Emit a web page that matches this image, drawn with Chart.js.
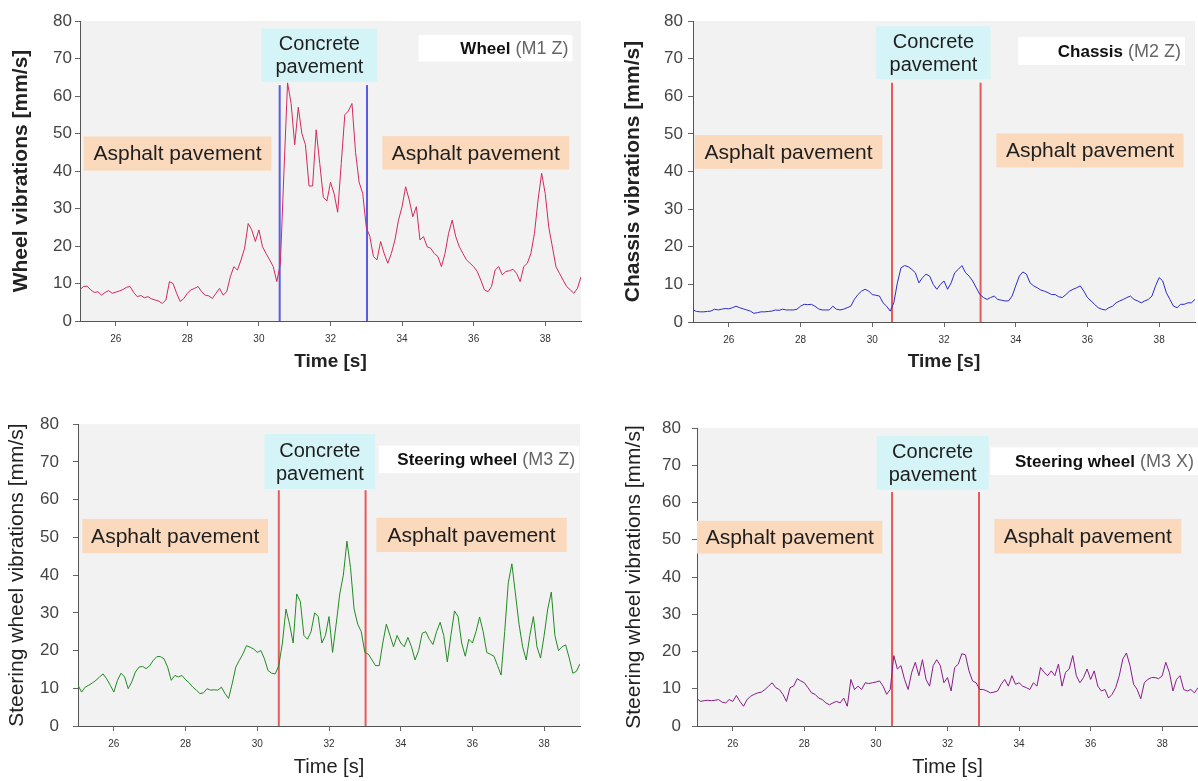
<!DOCTYPE html>
<html>
<head>
<meta charset="utf-8">
<title>Vibrations on asphalt and concrete pavement</title>
<script src="https://cdn.jsdelivr.net/npm/chart.js@4.4.1/dist/chart.umd.min.js"></script>
<style>
  html, body { margin: 0; padding: 0; background: #fff; }
  body { width: 1198px; height: 781px; position: relative; overflow: hidden; }
  canvas { position: absolute; }
</style>
</head>
<body>
<canvas id="wheelChart" width="590" height="380" style="left:0;top:0"></canvas>
<canvas id="chassisChart" width="598" height="380" style="left:600px;top:0"></canvas>
<canvas id="steerZChart" width="590" height="381" style="left:0;top:400px"></canvas>
<canvas id="steerXChart" width="598" height="381" style="left:600px;top:400px"></canvas>
<script>
// time axis [s], one sample every 0.1 s
const times = [
  25.0, 25.1, 25.2, 25.3, 25.4, 25.5, 25.6, 25.7, 25.8, 25.9,
  26.0, 26.1, 26.2, 26.3, 26.4, 26.5, 26.6, 26.7, 26.8, 26.9,
  27.0, 27.1, 27.2, 27.3, 27.4, 27.5, 27.6, 27.7, 27.8, 27.9,
  28.0, 28.1, 28.2, 28.3, 28.4, 28.5, 28.6, 28.7, 28.8, 28.9,
  29.0, 29.1, 29.2, 29.3, 29.4, 29.5, 29.6, 29.7, 29.8, 29.9,
  30.0, 30.1, 30.2, 30.3, 30.4, 30.5, 30.6, 30.7, 30.8, 30.9,
  31.0, 31.1, 31.2, 31.3, 31.4, 31.5, 31.6, 31.7, 31.8, 31.9,
  32.0, 32.1, 32.2, 32.3, 32.4, 32.5, 32.6, 32.7, 32.8, 32.9,
  33.0, 33.1, 33.2, 33.3, 33.4, 33.5, 33.6, 33.7, 33.8, 33.9,
  34.0, 34.1, 34.2, 34.3, 34.4, 34.5, 34.6, 34.7, 34.8, 34.9,
  35.0, 35.1, 35.2, 35.3, 35.4, 35.5, 35.6, 35.7, 35.8, 35.9,
  36.0, 36.1, 36.2, 36.3, 36.4, 36.5, 36.6, 36.7, 36.8, 36.9,
  37.0, 37.1, 37.2, 37.3, 37.4, 37.5, 37.6, 37.7, 37.8, 37.9,
  38.0, 38.1, 38.2, 38.3, 38.4, 38.5, 38.6, 38.7, 38.8, 38.9,
  39.0
];

// Wheel (M1 Z) [mm/s]
const wheelZ = [
  8.4, 9.2, 9.3, 8.3, 7.6, 7.8, 6.9, 7.6, 8.1, 7.4,
  7.7, 8.0, 8.4, 9.0, 9.2, 7.6, 6.5, 6.8, 6.2, 6.5,
  5.9, 5.6, 5.3, 4.7, 5.6, 10.5, 10.0, 7.4, 5.2, 6.0,
  7.4, 8.3, 8.7, 9.2, 7.8, 6.9, 6.7, 6.0, 7.4, 8.7,
  6.9, 7.8, 11.8, 14.5, 13.6, 16.3, 19.4, 26.0, 24.3, 21.2,
  24.3, 19.8, 18.0, 16.3, 14.5, 10.5, 15.4, 40.0, 63.5, 58.0,
  47.0, 57.0, 50.0, 47.0, 36.0, 36.0, 51.0, 42.0, 33.0, 32.0,
  37.0, 34.0, 29.0, 42.0, 55.0, 56.0, 58.0, 45.0, 37.0, 34.0,
  25.0, 22.5, 17.2, 16.3, 21.2, 18.0, 15.4, 18.0, 21.6, 26.9,
  30.5, 35.8, 32.3, 27.8, 30.5, 21.6, 22.5, 19.8, 19.4, 18.0,
  17.2, 14.5, 18.0, 23.4, 26.9, 22.5, 19.8, 18.0, 16.3, 15.4,
  14.5, 13.2, 10.9, 8.3, 7.8, 9.2, 13.6, 14.5, 12.3, 13.2,
  13.4, 13.8, 12.7, 10.5, 14.5, 15.4, 18.0, 23.4, 32.3, 39.4,
  34.0, 25.0, 19.8, 14.5, 12.7, 10.9, 9.2, 8.3, 7.4, 8.7,
  11.8
];

// Chassis (M2 Z) [mm/s]
const chassisZ = [
  3.2, 2.8, 2.7, 2.7, 2.8, 2.9, 3.4, 3.2, 3.4, 3.6,
  3.5, 3.8, 4.2, 3.8, 3.5, 3.2, 2.9, 2.3, 2.5, 2.7,
  2.7, 2.8, 2.9, 3.2, 3.1, 3.4, 3.2, 3.2, 3.2, 3.4,
  4.2, 4.7, 4.6, 4.7, 4.2, 3.5, 3.2, 3.2, 3.2, 4.2,
  3.4, 3.2, 3.4, 3.8, 4.2, 6.0, 7.3, 8.2, 8.7, 8.2,
  7.3, 7.1, 6.9, 5.1, 4.2, 2.9, 5.1, 10.4, 14.4, 15.0,
  14.7, 14.0, 13.1, 10.4, 11.8, 12.7, 12.2, 10.0, 8.7, 10.0,
  10.9, 8.7, 10.4, 13.1, 14.0, 15.0, 13.1, 12.2, 10.9, 9.1,
  7.3, 6.5, 6.0, 6.5, 6.9, 6.0, 5.8, 5.6, 5.6, 6.9,
  9.6, 12.2, 13.3, 12.7, 10.4, 9.6, 9.1, 8.5, 8.2, 7.8,
  7.3, 7.3, 6.7, 6.5, 7.3, 8.2, 8.7, 9.1, 9.6, 8.2,
  6.5, 5.6, 4.7, 3.8, 3.4, 3.2, 3.8, 4.2, 5.1, 5.6,
  6.0, 6.5, 6.9, 6.0, 5.6, 5.1, 5.6, 6.0, 6.9, 9.6,
  11.8, 10.9, 7.8, 6.0, 4.2, 3.8, 4.7, 4.7, 5.1, 5.1,
  6.0
];

// Steering wheel (M3 Z) [mm/s]
const steeringZ = [
  10.8, 9.0, 10.3, 10.8, 11.4, 12.1, 13.0, 13.8, 12.5, 10.8,
  9.0, 12.1, 14.0, 13.0, 9.9, 11.7, 14.3, 15.6, 15.8, 15.2,
  16.0, 17.4, 18.4, 18.4, 17.8, 15.6, 12.1, 13.4, 13.0, 13.4,
  12.3, 11.4, 10.3, 9.5, 8.6, 8.8, 9.9, 9.5, 9.6, 9.5,
  10.3, 8.6, 7.3, 11.2, 15.6, 17.4, 19.1, 21.3, 20.9, 20.4,
  19.5, 20.0, 17.8, 14.7, 14.0, 13.8, 16.0, 22.0, 31.0, 27.0,
  22.0, 35.0, 33.0, 24.0, 23.0, 25.0, 30.0, 29.0, 22.0, 24.0,
  29.0, 19.5, 27.0, 35.0, 40.0, 49.0, 42.0, 31.0, 27.0, 25.0,
  19.5, 19.0, 17.5, 16.0, 16.0, 22.0, 27.0, 24.0, 21.0, 24.0,
  22.0, 21.0, 23.5, 21.0, 17.5, 20.0, 24.6, 25.0, 23.0, 21.6,
  25.0, 27.5, 24.0, 17.0, 24.0, 30.5, 29.0, 22.0, 18.5, 23.0,
  22.0, 25.0, 28.9, 25.0, 19.5, 19.0, 18.5, 16.0, 13.5, 25.0,
  38.0, 43.0, 35.0, 27.0, 21.0, 17.5, 24.0, 29.0, 21.0, 18.0,
  24.0, 31.0, 35.5, 24.0, 20.0, 21.0, 21.5, 18.0, 14.0, 14.5,
  16.5
];

// Steering wheel (M3 X) [mm/s]
const steeringX = [
  7.3, 6.6, 6.8, 6.9, 6.8, 6.9, 7.1, 6.4, 6.2, 7.1,
  6.6, 8.2, 6.6, 5.3, 7.1, 8.0, 8.5, 8.9, 9.1, 9.8,
  10.7, 11.6, 10.3, 9.8, 8.5, 6.6, 10.3, 10.7, 12.7, 12.1,
  11.6, 10.3, 8.9, 8.5, 7.5, 7.1, 6.2, 5.7, 6.2, 6.6,
  6.2, 7.5, 5.3, 12.5, 9.8, 10.7, 9.8, 11.6, 11.4, 11.6,
  11.8, 12.1, 10.7, 8.5, 9.8, 18.9, 15.3, 16.2, 12.5, 9.8,
  14.4, 17.1, 13.5, 17.8, 12.5, 10.7, 16.2, 17.8, 16.2, 11.6,
  13.0, 9.4, 15.7, 16.6, 19.4, 19.1, 14.8, 12.1, 11.6, 9.8,
  9.8, 9.4, 8.9, 9.1, 9.4, 11.2, 12.5, 10.7, 13.5, 11.2,
  11.6, 10.7, 10.3, 9.8, 11.6, 10.7, 15.7, 14.4, 13.5, 14.8,
  13.5, 16.6, 10.7, 14.4, 15.3, 18.9, 13.5, 11.6, 13.0, 15.3,
  12.5, 14.8, 10.7, 9.4, 9.8, 7.5, 8.5, 10.3, 13.5, 18.0,
  19.6, 16.2, 11.2, 9.8, 7.3, 11.6, 12.5, 13.0, 13.0, 12.7,
  13.5, 17.1, 14.4, 9.4, 12.5, 13.5, 9.8, 9.4, 9.8, 8.9,
  10.3
];

const timeTicks = [26, 28, 30, 32, 34, 36, 38];

const FONT = "'Liberation Sans', Arial, Helvetica, sans-serif";
Chart.defaults.font.family = FONT;

const ASPHALT = '#fad9bd';
const CONCRETE = '#d5f4f7';

// grey plot area + pavement boxes and section lines, in data coordinates
const pavementPlugin = {
  id: 'pavement',
  beforeDraw(chart) {
    const { ctx, chartArea: a } = chart;
    ctx.save();
    ctx.fillStyle = '#f2f2f2';
    ctx.fillRect(a.left, a.top, a.right - a.left, a.bottom - a.top);
    ctx.restore();
  },
  beforeDatasetsDraw(chart, args, opts) {
    const { ctx, scales: { x, y } } = chart;
    ctx.save();
    ctx.textBaseline = 'middle';

    (opts.boxes || []).forEach(b => {
      const l = x.getPixelForValue(b.x0), r = x.getPixelForValue(b.x1);
      const t = y.getPixelForValue(b.y1), btm = y.getPixelForValue(b.y0);
      ctx.fillStyle = b.bg;
      ctx.fillRect(l, t, r - l, btm - t);
      ctx.fillStyle = '#1e1e1e';
      const lines = b.text;
      ctx.font = (lines.length > 1 ? '20px ' : '21px ') + FONT;
      ctx.textAlign = 'center';
      const lh = 23;
      const cy = (t + btm) / 2 - (lines.length - 1) * lh / 2 + 1;
      lines.forEach((s, i) => ctx.fillText(s, (l + r) / 2, cy + i * lh));
    });

    (opts.lines || []).forEach(v => {
      const px = x.getPixelForValue(v);
      ctx.strokeStyle = opts.lineColor;
      ctx.lineWidth = 2;
      ctx.beginPath();
      ctx.moveTo(px, y.getPixelForValue(opts.lineTop));
      ctx.lineTo(px, y.getPixelForValue(0));
      ctx.stroke();
    });

    const lab = opts.label;
    if (lab) {
      const l = x.getPixelForValue(lab.x0), r = x.getPixelForValue(lab.x1);
      const t = y.getPixelForValue(lab.y1), btm = y.getPixelForValue(lab.y0);
      ctx.fillStyle = '#fff';
      ctx.fillRect(l, t, r - l, btm - t);
      ctx.textAlign = 'left';
      const bold = 'bold 17px ' + FONT, norm = '18px ' + FONT;
      ctx.font = bold;
      const w1 = ctx.measureText(lab.name).width;
      ctx.font = norm;
      const w2 = ctx.measureText(lab.sensor).width;
      const px = r - 4 - w1 - w2;
      const cy = (t + btm) / 2 + 1;
      ctx.font = bold;
      ctx.fillStyle = '#111';
      ctx.fillText(lab.name, px, cy);
      ctx.font = norm;
      ctx.fillStyle = '#666';
      ctx.fillText(lab.sensor, px + w1, cy);
    }
    ctx.restore();
  }
};

function makeChart(id, cfg) {
  const ctx = document.getElementById(id).getContext('2d');
  return new Chart(ctx, {
    type: 'line',
    data: {
      datasets: [{
        data: times.map((t, i) => ({ x: t, y: cfg.values[i] })),
        borderColor: cfg.color,
        borderWidth: 1,
        pointRadius: 0,
        tension: 0,
        fill: false
      }]
    },
    options: {
      responsive: false,
      animation: false,
      events: [],
      layout: { padding: cfg.padding },
      plugins: {
        legend: { display: false },
        tooltip: { enabled: false },
        pavement: cfg.annot
      },
      scales: {
        x: {
          type: 'linear',
          min: 25,
          max: 39,
          afterBuildTicks: s => { s.ticks = timeTicks.map(v => ({ value: v })); },
          afterFit: s => { s.height = cfg.xHeight; },
          grid: { drawOnChartArea: false, drawTicks: true, tickLength: 5, color: '#666' },
          border: { display: true, color: '#555', width: 1 },
          ticks: { font: { size: 10 }, color: '#333', padding: cfg.xTickPad, maxRotation: 0 },
          title: {
            display: true,
            text: 'Time [s]',
            color: '#222',
            font: cfg.xTitleFont,
            padding: { top: 0, bottom: cfg.xTitlePad }
          }
        },
        y: {
          min: 0,
          max: 80,
          afterFit: s => { s.width = cfg.yWidth; },
          grid: { drawOnChartArea: false, drawTicks: true, tickLength: 5, color: '#666' },
          border: { display: true, color: '#555', width: 1 },
          ticks: { stepSize: 10, font: { size: 17 }, color: '#444', padding: cfg.yTickPad },
          title: {
            display: true,
            text: cfg.yTitle,
            color: '#222',
            font: cfg.yTitleFont,
            padding: { top: cfg.yTitlePad, bottom: 0 }
          }
        }
      }
    },
    plugins: [pavementPlugin]
  });
}

const boldTitle = { size: 19, weight: 'bold' };
const boldYTitle = { size: 21, weight: 'bold' };
const plainTitle = { size: 20, weight: 'normal' };
const plainYTitle = { size: 21, weight: 'normal' };

makeChart('wheelChart', {
  values: wheelZ,
  color: '#d22a5e',
  padding: { left: 0, top: 21, right: 9, bottom: 0 },
  yWidth: 80, xHeight: 59, yTickPad: 3, xTickPad: 7,
  yTitle: 'Wheel vibrations [mm/s]', yTitleFont: boldYTitle, yTitlePad: 9,
  xTitleFont: boldTitle, xTitlePad: 7,
  annot: {
    boxes: [
      { x0: 25.1, x1: 30.35, y0: 40.1, y1: 49.2, bg: ASPHALT, text: ['Asphalt pavement'] },
      { x0: 33.45, x1: 38.67, y0: 40.4, y1: 49.3, bg: ASPHALT, text: ['Asphalt pavement'] },
      { x0: 30.07, x1: 33.31, y0: 63.8, y1: 78, bg: CONCRETE, text: ['Concrete', 'pavement'] }
    ],
    lines: [30.58, 33.02], lineTop: 62.9, lineColor: '#5a5ae6',
    label: { x0: 34.46, x1: 38.76, y0: 69.2, y1: 76.3, name: 'Wheel', sensor: ' (M1 Z)' }
  }
});

makeChart('chassisChart', {
  values: chassisZ,
  color: '#2c2ccc',
  padding: { left: 0, top: 21, right: 3, bottom: 0 },
  yWidth: 93, xHeight: 58, yTickPad: 5, xTickPad: 7,
  yTitle: 'Chassis vibrations [mm/s]', yTitleFont: boldYTitle, yTitlePad: 21,
  xTitleFont: boldTitle, xTitlePad: 7,
  annot: {
    boxes: [
      { x0: 25.05, x1: 30.28, y0: 40.7, y1: 49.7, bg: ASPHALT, text: ['Asphalt pavement'] },
      { x0: 33.46, x1: 38.68, y0: 41.1, y1: 50.1, bg: ASPHALT, text: ['Asphalt pavement'] },
      { x0: 30.11, x1: 33.3, y0: 64.5, y1: 78.6, bg: CONCRETE, text: ['Concrete', 'pavement'] }
    ],
    lines: [30.55, 33.02], lineTop: 63.6, lineColor: '#e85a5a',
    label: { x0: 34.07, x1: 38.72, y0: 68.3, y1: 75.8, name: 'Chassis', sensor: ' (M2 Z)' }
  }
});

makeChart('steerZChart', {
  values: steeringZ,
  color: '#228b22',
  padding: { left: 0, top: 24, right: 10, bottom: 0 },
  yWidth: 78, xHeight: 55, yTickPad: 14, xTickPad: 7,
  yTitle: 'Steering wheel vibrations [mm/s]', yTitleFont: plainYTitle, yTitlePad: 5,
  xTitleFont: plainTitle, xTitlePad: 2,
  annot: {
    boxes: [
      { x0: 25.12, x1: 30.3, y0: 45.8, y1: 54.9, bg: ASPHALT, text: ['Asphalt pavement'] },
      { x0: 33.32, x1: 38.63, y0: 46.1, y1: 55.2, bg: ASPHALT, text: ['Asphalt pavement'] },
      { x0: 30.2, x1: 33.29, y0: 62.8, y1: 77.4, bg: CONCRETE, text: ['Concrete', 'pavement'] }
    ],
    lines: [30.6, 33.02], lineTop: 62.5, lineColor: '#e85a5a',
    label: { x0: 33.39, x1: 38.98, y0: 67.1, y1: 74.3, name: 'Steering wheel', sensor: ' (M3 Z)' }
  }
});

makeChart('steerXChart', {
  values: steeringX,
  color: '#8a1c8a',
  padding: { left: 0, top: 28, right: 0, bottom: 0 },
  yWidth: 97, xHeight: 55, yTickPad: 11, xTickPad: 7,
  yTitle: 'Steering wheel vibrations [mm/s]', yTitleFont: plainYTitle, yTitlePad: 22,
  xTitleFont: plainTitle, xTitlePad: 2,
  annot: {
    boxes: [
      { x0: 25.0, x1: 30.18, y0: 46.3, y1: 55.1, bg: ASPHALT, text: ['Asphalt pavement'] },
      { x0: 33.31, x1: 38.53, y0: 46.3, y1: 55.6, bg: ASPHALT, text: ['Asphalt pavement'] },
      { x0: 30.02, x1: 33.15, y0: 63.4, y1: 77.9, bg: CONCRETE, text: ['Concrete', 'pavement'] }
    ],
    lines: [30.45, 32.88], lineTop: 62.8, lineColor: '#e85a5a',
    label: { x0: 33.2, x1: 39.0, y0: 67.4, y1: 74.8, name: 'Steering wheel', sensor: ' (M3 X)' }
  }
});
</script>
</body>
</html>
